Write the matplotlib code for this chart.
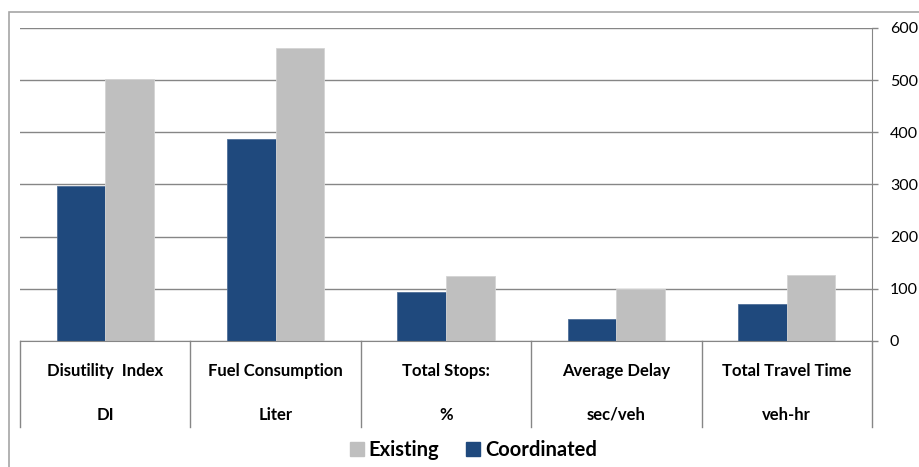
import matplotlib
matplotlib.use('Agg')
import matplotlib.pyplot as plt
import matplotlib.transforms as mtransforms
from matplotlib.patches import Rectangle
from matplotlib.lines import Line2D
import numpy as np

# measures compared for the two signal plans
CATEGORIES = ['Disutility  Index', 'Fuel Consumption', 'Total Stops:',
              'Average Delay', 'Total Travel Time']
UNITS = ['DI', 'Liter', '%', 'sec/veh', 'veh-hr']
COORDINATED = [298, 387, 93, 43, 70]
EXISTING = [503, 562, 124, 99, 126]

BLUE = '#1F497D'
GREY = '#BFBFBF'
LINE = '#868686'
BAR_WIDTH = 0.285

plt.rcParams['font.family'] = ['Lato', 'DejaVu Sans']


def main():
    fig = plt.figure(figsize=(9.2, 4.67), dpi=100)
    ax = fig.add_axes([20 / 920, 1 - 341 / 467, 852 / 920, 313 / 467])

    x = np.arange(len(CATEGORIES))
    ax.bar(x - BAR_WIDTH / 2, COORDINATED, BAR_WIDTH, color=BLUE,
           edgecolor='#4F6F98', linewidth=0.6, zorder=3)
    ax.bar(x + BAR_WIDTH / 2, EXISTING, BAR_WIDTH, color=GREY,
           edgecolor='#D4D4D4', linewidth=0.6, zorder=3)

    ax.set_xlim(-0.5, len(CATEGORIES) - 0.5)
    ax.set_ylim(0, 600)
    ax.set_yticks(range(0, 601, 100))
    ax.yaxis.tick_right()
    ax.tick_params(axis='y', direction='out', length=4.3, width=1, color=LINE,
                   labelsize=11.5, pad=8.5, labelcolor='#000000')
    ax.set_xticks([])
    ax.grid(axis='y', color=LINE, linewidth=1, zorder=0)

    for side in ['top', 'left']:
        ax.spines[side].set_visible(False)
    ax.spines['right'].set_color(LINE)
    ax.spines['bottom'].set_color(LINE)
    ax.spines['bottom'].set_zorder(4)

    # category table below the axis: separators and two-line labels
    trans = mtransforms.blended_transform_factory(ax.transData, ax.transAxes)
    for b in np.arange(-0.5, len(CATEGORIES), 1.0):
        ax.add_line(Line2D([b, b], [0, -0.275], transform=trans,
                           color=LINE, linewidth=1, clip_on=False))
    for i, (name, unit) in enumerate(zip(CATEGORIES, UNITS)):
        ax.text(i, -0.096, name, transform=trans, ha='center', va='center',
                fontsize=12, fontweight='bold')
        ax.text(i, -0.236, unit, transform=trans, ha='center', va='center',
                fontsize=12, fontweight='bold')

    # outer chart frame
    fig.patches.append(Rectangle((9 / 920, -0.5), 2, 0.5 + (1 - 12 / 467),
                                 transform=fig.transFigure, fill=False,
                                 edgecolor='#A6A6A6', linewidth=1.2))

    handles = [Line2D([], [], marker='s', linestyle='none', color=GREY,
                      markersize=10),
               Line2D([], [], marker='s', linestyle='none', color=BLUE,
                      markersize=10)]
    fig.legend(handles, ['Existing', 'Coordinated'], loc='center',
               bbox_to_anchor=(0.513, 1 - 450 / 467), ncol=2, frameon=False,
               prop={'size': 14.5, 'weight': 'bold'}, handletextpad=0.1,
               columnspacing=1.2, handlelength=1.0)

    fig.savefig('out.png', dpi=100)


if __name__ == '__main__':
    main()
